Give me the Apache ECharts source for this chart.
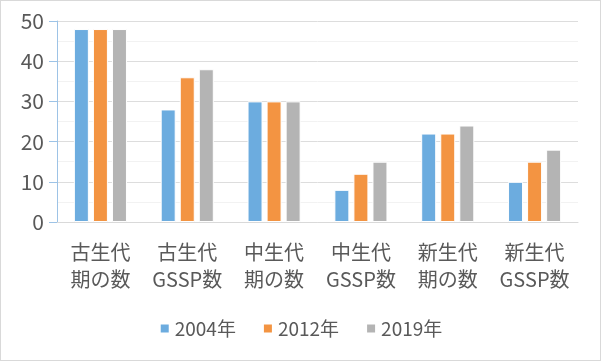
<!DOCTYPE html>
<html><head><meta charset="utf-8">
<script src="https://cdn.jsdelivr.net/npm/echarts@6/dist/echarts.min.js"></script>
<style>
html,body{margin:0;padding:0;background:#fff;}
#c{width:599px;height:359px;border:1px solid #D9D9D9;}
</style></head>
<body><div id="c"></div>
<script>
const categories = ['古生代\n期の数','古生代\nGSSP数','中生代\n期の数','中生代\nGSSP数','新生代\n期の数','新生代\nGSSP数'];
const seriesNames = ['2004年','2012年','2019年'];
const v2004 = [48, 28, 30, 8, 22, 10];
const v2012 = [48, 36, 30, 12, 22, 15];
const v2019 = [48, 38, 30, 15, 24, 18];
const colors = ['#6CACDF','#F39442','#B4B4B4'];
const font = '"Noto Sans CJK JP", "Noto Sans", sans-serif';
const chart = echarts.init(document.getElementById('c'));
const data = [v2004, v2012, v2019];
chart.setOption({
  animation:false,
  textStyle:{fontFamily:font},
  legend:{
    bottom:17, left:'center', itemWidth:10, itemHeight:10, itemGap:26,
    icon:'rect',
    textStyle:{fontSize:19, color:'#595959', fontFamily:font},
    data:seriesNames
  },
  grid:{left:56, right:22, top:20, bottom:138},
  xAxis:{
    type:'category', data:categories,
    axisLine:{lineStyle:{color:'#D9D9D9'}},
    axisTick:{show:false},
    axisLabel:{interval:0, fontSize:20, lineHeight:27, color:'#595959', margin:17, fontFamily:font}
  },
  yAxis:{
    type:'value', min:0, max:50, interval:10,
    axisLine:{show:true, lineStyle:{color:'#9DC3E6'}},
    axisTick:{show:true, length:8, lineStyle:{color:'#9DC3E6'}},
    axisLabel:{fontSize:21, color:'#595959', margin:13, fontFamily:font},
    splitLine:{lineStyle:{color:'#DDDDDD'}},
    minorTick:{show:false, splitNumber:2},
    minorSplitLine:{show:true, lineStyle:{color:'#F2F2F2'}}
  },
  series: seriesNames.map((n,i)=>({
    name:n, type:'bar', data:data[i],
    barWidth:15, barGap:'27%',
    itemStyle:{color:colors[i], borderColor:'#fff', borderWidth:1}
  }))
});
</script></body></html>
